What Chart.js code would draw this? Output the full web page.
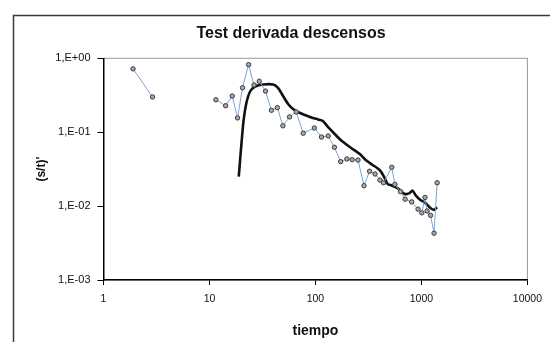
<!DOCTYPE html>
<html>
<head>
<meta charset="utf-8">
<script src="https://cdn.jsdelivr.net/npm/chart.js@4/dist/chart.umd.min.js"></script>
<style>
  html, body { margin: 0; padding: 0; background: #fff; }
  canvas { display: block; }
</style>
</head>
<body>
<canvas id="derivChart" width="550" height="342"></canvas>
<script>
// Drawdown derivative test, log-log
const chartTitle = "Test derivada descensos";
const xTitle = "tiempo";
const yTitle = "(s/t)'";

// early readings (separate segment)
const earlyT = [1.9, 2.9];
const earlyS = [0.72, 0.30];

// measured derivative
const derivT = [11.5, 14.2, 16.4, 18.4, 20.5, 23.4, 26.3, 29.5, 33.8, 38.4, 43.7, 49.3, 57, 65.8, 76.7,
  97.7, 114, 132, 151, 173, 198, 222, 252, 287, 324, 365, 406, 438, 525, 562, 635, 702, 809, 929,
  1009, 1081, 1131, 1219, 1315, 1407];
const derivS = [0.275, 0.228, 0.309, 0.156, 0.40, 0.82, 0.435, 0.49, 0.36, 0.198, 0.215, 0.122, 0.161, 0.188, 0.097,
  0.114, 0.086, 0.089, 0.0625, 0.040, 0.0434, 0.0425, 0.042, 0.0189, 0.0296, 0.0272, 0.0225, 0.0207, 0.0335, 0.0197,
  0.0157, 0.0124, 0.0114, 0.0091, 0.0081, 0.0131, 0.0086, 0.0075, 0.0043, 0.0207];

// fitted curve
const modelT = [18.9, 19.8, 20.9, 22.3, 24.3, 27, 32.1, 39.9, 44.5, 49.5, 55.2, 61.5, 71.5, 88.8, 105.5, 117.5,
  131, 152, 173, 211, 262, 298, 347, 403, 440, 480, 512, 596, 693, 772, 823, 879, 979, 1091, 1216, 1325, 1400];
const modelS = [0.025, 0.0574, 0.137, 0.248, 0.361, 0.415, 0.442, 0.442, 0.396, 0.309, 0.241, 0.206, 0.182, 0.161,
  0.149, 0.142, 0.118, 0.0945, 0.0784, 0.063, 0.0507, 0.042, 0.036, 0.0308, 0.0255, 0.0199, 0.0193, 0.0175,
  0.0146, 0.015, 0.0163, 0.0141, 0.0121, 0.011, 0.0094, 0.0089, 0.0097];

const xTickValues = [1, 10, 100, 1000, 10000];
const xTickLabels = ["1", "10", "100", "1000", "10000"];
const yTickValues = [0.001, 0.01, 0.1, 1];
const yTickLabels = ["1,E-03", "1,E-02", "1,E-01", "1,E+00"];

const pts = (xs, ys) => xs.map((x, i) => ({ x, y: ys[i] }));
const FONT = "'Liberation Sans', Arial, sans-serif";

const markerStyle = {
  showLine: true,
  borderColor: "#7aa5da",
  borderWidth: 1,
  pointRadius: 2.2,
  pointBackgroundColor: "#a8a8a8",
  pointBorderColor: "#3c3c3c",
  pointBorderWidth: 1,
  tension: 0
};

// frame, plot box and title
const framePlugin = {
  id: "frame",
  beforeDraw(chart) {
    const { ctx, chartArea: a } = chart;
    ctx.save();
    ctx.fillStyle = "#fff";
    ctx.fillRect(0, 0, chart.width, chart.height);
    ctx.strokeStyle = "#3a3a3a";
    ctx.lineWidth = 1.5;
    ctx.strokeRect(13.5, 15.5, 600, 400);
    ctx.strokeStyle = "#9a9a9a";
    ctx.lineWidth = 1;
    ctx.strokeRect(a.left, a.top, a.right - a.left, a.bottom - a.top);
    ctx.restore();
  },
  afterDraw(chart) {
    const ctx = chart.ctx;
    ctx.save();
    ctx.font = "bold 16px " + FONT;
    ctx.fillStyle = "#111";
    ctx.textAlign = "center";
    ctx.textBaseline = "middle";
    ctx.fillText(chartTitle, 291, 34);
    ctx.restore();
  }
};

new Chart(document.getElementById("derivChart"), {
  type: "scatter",
  data: {
    datasets: [
      { label: "early", data: pts(earlyT, earlyS), ...markerStyle },
      { label: "derivada", data: pts(derivT, derivS), ...markerStyle },
      { label: "modelo", data: pts(modelT, modelS), showLine: true, borderColor: "#111", borderWidth: 2.6,
        pointRadius: 0, tension: 0.2 }
    ]
  },
  options: {
    responsive: false,
    animation: false,
    devicePixelRatio: 1,
    layout: { padding: { left: 0, right: 19.5, top: 58.3, bottom: 0 } },
    plugins: { legend: { display: false }, tooltip: { enabled: false }, title: { display: false } },
    scales: {
      x: {
        type: "logarithmic",
        min: 1, max: 10000,
        afterBuildTicks: s => { s.ticks = xTickValues.map(v => ({ value: v })); },
        afterFit: s => { s.height = 62; },
        ticks: { callback: (v, i) => xTickLabels[i], font: { family: FONT, size: 10.5 }, color: "#111",
          padding: 8, maxRotation: 0, autoSkip: false },
        grid: { drawOnChartArea: false, tickLength: 5, color: "#000" },
        border: { display: true, color: "#000", width: 1.5 },
        title: { display: true, text: xTitle, font: { family: FONT, size: 14, weight: "bold" }, color: "#111",
          padding: { top: 0, bottom: 2.6 } }
      },
      y: {
        type: "logarithmic",
        min: 0.001, max: 1,
        afterBuildTicks: s => { s.ticks = yTickValues.map(v => ({ value: v })); },
        afterFit: s => { s.width = 103.5; },
        ticks: { callback: (v, i) => yTickLabels[i], font: { family: FONT, size: 11 }, color: "#111",
          padding: 7, autoSkip: false },
        grid: { drawOnChartArea: false, tickLength: 6, color: "#000" },
        border: { display: true, color: "#000", width: 1.5 },
        title: { display: true, text: yTitle, font: { family: FONT, size: 12, weight: "bold" }, color: "#111",
          padding: { top: 34.8, bottom: 0 } }
      }
    }
  },
  plugins: [framePlugin]
});
</script>
</body>
</html>
